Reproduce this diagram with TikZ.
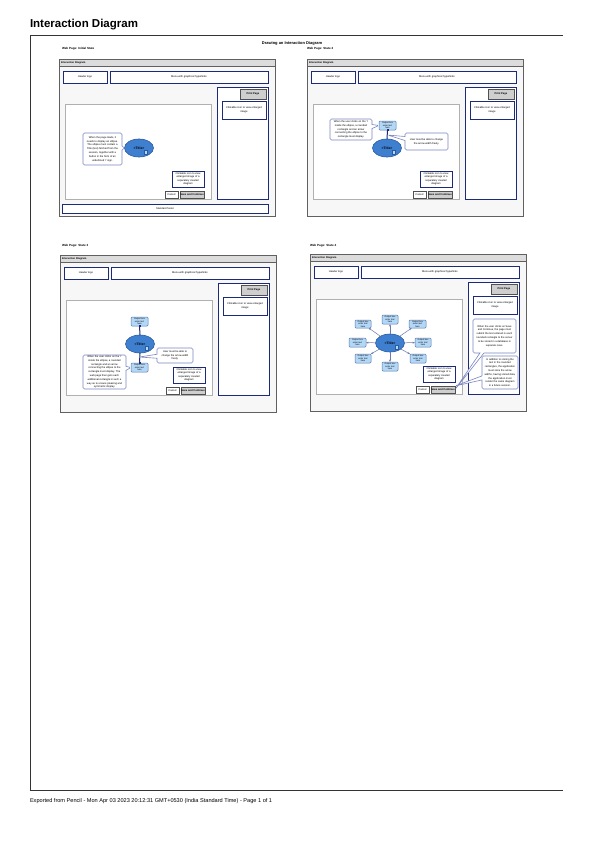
\documentclass[tikz,border=0pt]{standalone}
\usepackage{fontspec}
\setmainfont{Liberation Sans}
\usetikzlibrary{shapes.callouts,shapes.geometric,arrows.meta}
\definecolor{navy}{HTML}{1B2A7B}
\definecolor{efill}{HTML}{3F7FCF}
\definecolor{eborder}{HTML}{2A5AA0}
\definecolor{lblue}{HTML}{B3D7F7}
\definecolor{oborder}{HTML}{5A7AAA}
\definecolor{cborder}{HTML}{7A86C2}
\definecolor{pbg}{HTML}{F7F7F7}
\definecolor{pborder}{HTML}{606060}
\definecolor{phead}{HTML}{DCDCDC}
\definecolor{bfill}{HTML}{CFCFCF}
\definecolor{bborder}{HTML}{505050}
\definecolor{aborder}{HTML}{B0B0B0}
\definecolor{sborder}{HTML}{6A7AB0}
\definecolor{fcol}{HTML}{333333}
\newcommand\fsz{\fontsize{2.6}{3.5}\selectfont}
\newcommand\bx[7]{\node[#6, minimum width={#4-#2}, minimum height={#5-#3}] (#1) at ({(#2+#4)/2},{(#3+#5)/2}) {#7};}
\tikzset{
  every node/.style={inner sep=0pt, outer sep=0pt, font=\fsz},
  panelbg/.style={draw=pborder, fill=pbg, line width=0.6pt},
  headbar/.style={draw=pborder, fill=phead, line width=0.6pt},
  navybox/.style={draw=navy, fill=white, line width=0.8pt, align=center},
  btn/.style={draw=bborder, fill=bfill, line width=0.6pt, font=\fsz\bfseries},
  cbtn/.style={draw=bborder, fill=white, line width=0.6pt},
  areabox/.style={draw=aborder, fill=white, line width=0.5pt},
  ell/.style={ellipse, draw=eborder, fill=efill, line width=0.6pt, minimum width=29pt, minimum height=18pt, font=\fontsize{3.4}{4}\selectfont\bfseries},
  iicon/.style={draw=eborder, fill=lblue, minimum width=3pt, minimum height=4pt, line width=0.3pt},
  obox/.style={draw=oborder, fill=lblue, rounded corners=1pt, line width=0.5pt, align=center, font=\fontsize{2.2}{2.7}\selectfont},
  callbox/.style={rectangle callout, draw=cborder, fill=white, rounded corners=1.5pt, line width=0.6pt, align=center, callout pointer width=4pt, font=\fontsize{2.6}{3.8}\selectfont},
  conn/.style={draw=navy, line width=1pt},
  handle/.style={fill=navy, minimum size=2pt},
  spoke/.style={draw=sborder, line width=0.5pt, -{Stealth[length=2.5pt,width=2pt]}},
  frame/.style={draw=fcol, line width=0.8pt},
}
\newcommand\panelbase[1]{%
  \bx{#1frame}{0}{0}{216}{157}{panelbg}{}
  \bx{#1head}{0}{0}{216}{7}{headbar}{}
  \node[anchor=west, font=\fontsize{2.6}{3}\selectfont\bfseries] (#1ht) at (2,3.5) {Interaction Diagram};
  \bx{#1logo}{4}{12}{48}{24}{navybox}{Header logo}
  \bx{#1menu}{51}{12}{209}{24}{navybox}{Menu with graphical hyperlinks}
  \bx{#1side}{158}{28}{209}{140}{navybox}{}
  \bx{#1print}{181}{30}{207}{40}{btn}{Print Page}
  \bx{#1click}{163}{42}{207}{60}{navybox}{Clickable icon to view enlarged\\image}
  \bx{#1area}{6}{45}{152}{140}{areabox}{}
  \bx{#1enl}{113}{112}{145}{128}{navybox}{Clickable icon to view\\enlarged image of a\\separately created\\diagram}
  \bx{#1cancel}{106}{132}{119}{139}{cbtn}{Cancel}
  \bx{#1save}{121}{132}{145}{139}{btn}{Save and Continue}
  \node[ell] (#1ell) at (80,89) {<Title>};
  \node[iicon] (#1icon) at (87,93) {};
}
\begin{document}
\begin{tikzpicture}[x=1pt,y=-1pt]
\useasboundingbox (0,0) rectangle (596,841);
\fill[white] (0,0) rectangle (596,841);
\node[anchor=base west, font=\fontsize{11.5}{13}\selectfont\bfseries] (title) at (30,27) {Interaction Diagram};
\draw[frame] (563,35) -- (30,35) -- (30,790) -- (563,790);
\node[font=\fontsize{4}{5}\selectfont\bfseries] (dtitle) at (292,43.5) {Drawing an Interaction Diagram};
\node[anchor=west, font=\fontsize{3}{4}\selectfont\bfseries] (l1) at (62,49) {Web Page: Initial State};
\node[anchor=west, font=\fontsize{3}{4}\selectfont\bfseries] (l2) at (307,49) {Web Page: State 2};
\node[anchor=west, font=\fontsize{3}{4}\selectfont\bfseries] (l3) at (62,246) {Web Page: State 3};
\node[anchor=west, font=\fontsize{3}{4}\selectfont\bfseries] (l4) at (310,246) {Web Page: State 4};
\node[anchor=base west, font=\fontsize{5.6}{7}\selectfont] (foot) at (30,802) {Exported from Pencil - Mon Apr 03 2023 20:12:31 GMT+0530 (India Standard Time) - Page 1 of 1};

% Panel 1
\begin{scope}[shift={(59,59)}]
  \panelbase{p1}
  \bx{p1foot}{3}{145}{209}{154}{navybox}{Standard footer}
  \bx{p1c}{24}{74}{63}{106}{callbox, callout absolute pointer={(p1ell.west)}}{When the page loads, it\\needs to display an ellipse.\\The ellipse must contain a\\Title (text) fetched from the\\session, together with a\\button in the form of an\\underlined `i' sign.}
\end{scope}

% Panel 2
\begin{scope}[shift={(307,59)}]
  \panelbase{p2}
  \bx{p2r}{72}{62}{89}{71}{obox}{Output box\\enter text\\here}
  \draw[conn] (p2r.south) -- (p2ell.north);
  \node[handle] (p2h) at (p2r.south) {};
  \coordinate (p2pt) at (80.5,76);
  \bx{p2c1}{23}{60}{65}{81}{callbox, callout absolute pointer={(p2r.west)}}{When the user clicks on the `i'\\inside the ellipse, a rounded\\rectangle and an arrow\\connecting the ellipse to the\\rectangle must display.}
  \bx{p2c2}{98}{74}{141}{91}{callbox, callout absolute pointer={(p2pt)}}{User must be able to change\\the arrow width freely.}
\end{scope}

% Panel 3
\begin{scope}[shift={(60,255)}]
  \panelbase{p3}
  \bx{p3r1}{71}{62}{88}{71}{obox}{Output box\\enter text\\here}
  \bx{p3r2}{71}{108}{88}{117}{obox}{Output box\\enter text\\here}
  \draw[conn] (p3r1.south) -- (p3ell.north);
  \draw[conn] (p3ell.south) -- (p3r2.north);
  \node[handle] (p3h1) at (p3r1.south) {};
  \node[handle] (p3h2) at (p3r2.north) {};
  \coordinate (p3pt) at (79.5,102);
  \bx{p3c1}{97}{93}{133}{108}{callbox, callout absolute pointer={(p3pt)}}{User must be able to\\change the arrow width\\freely.}
  \bx{p3c2}{23}{100}{66}{134}{callbox, callout absolute pointer={(p3r2.west)}}{When the user clicks on the `i'\\inside the ellipse, a rounded\\rectangle and an arrow\\connecting the ellipse to the\\rectangle must display. The\\web page then gets each\\additional rectangle in such a\\way as to ensure pleasing and\\symmetric display.}
\end{scope}

% Panel 4
\begin{scope}[shift={(310,254)}]
  \panelbase{p4}
  \bx{p4a}{72}{61}{88}{70}{obox}{Output box\\enter text\\here}
  \bx{p4b}{99}{66}{116}{74}{obox}{Output box\\enter text\\here}
  \bx{p4c}{105}{84}{121}{93}{obox}{Output box\\enter text\\here}
  \bx{p4d}{100}{100}{116}{109}{obox}{Output box\\enter text\\here}
  \bx{p4e}{72}{108}{88}{117}{obox}{Output box\\enter text\\here}
  \bx{p4f}{45}{100}{61}{109}{obox}{Output box\\enter text\\here}
  \bx{p4g}{39}{84}{56}{93}{obox}{Output box\\enter text\\here}
  \bx{p4h}{45}{66}{61}{74}{obox}{Output box\\enter text\\here}
  \foreach \t in {a,b,c,d,e,f,g,h} {\draw[spoke] (p4ell) -- (p4\t);}
  \node[iicon] (p4icon2) at (87,93) {};
  \bx{p4c1}{163}{65}{206}{99}{callbox, callout absolute pointer={(p4save.east)}}{When the user clicks on Save\\and Continue, the page must\\submit the text entered in each\\rounded rectangle to the server\\to be stored in a database in\\separate rows.}
  \bx{p4c2}{172}{102}{208}{135}{callbox, callout absolute pointer={(p4save.north east)}}{In addition to storing the\\text in the rounded\\rectangles, the application\\must store the arrow\\widths, having stored data,\\the application must\\render the same diagram\\in a future session.}
\end{scope}
\end{tikzpicture}
\end{document}
